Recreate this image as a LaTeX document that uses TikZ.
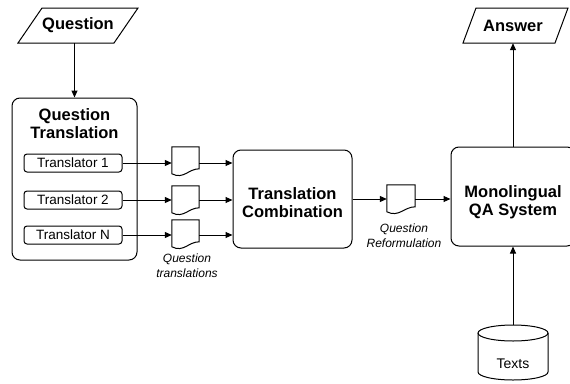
\documentclass[tikz,border=0pt]{standalone}
\usepackage{fontspec}
\setmainfont{Liberation Sans}
\usetikzlibrary{arrows.meta,calc}
\tikzset{
  ln/.style={line width=1pt},
  arr/.style={ln,-{Triangle[length=7pt,width=6pt]}},
  ttl/.style={font=\fontsize{16.5}{18}\selectfont\bfseries,align=center},
  bigbox/.style={draw,ln,rounded corners=8pt,inner sep=0pt},
  tbox/.style={draw,ln,rounded corners=3pt,minimum width=98pt,minimum height=18pt,inner sep=0pt,font=\fontsize{13.5}{16}\selectfont},
  docn/.style={minimum width=27pt,minimum height=27pt,inner sep=0pt},
  lab/.style={font=\fontsize{12}{15}\selectfont\itshape,align=center},
  slot/.style={inner sep=0pt}
}
\newcommand\docdraw[1]{%
  \draw[ln,fill=white] (#1.north west) -- (#1.north east) -- ($(#1.north east)+(0,22)$)
    .. controls ($(#1.north east)+(-11,22)$) and ($(#1.north west)+(12,33)$) .. ($(#1.north west)+(0,27)$) -- cycle;}
\begin{document}
\begin{tikzpicture}[x=1pt,y=-1pt]
\useasboundingbox[fill=white] (0,0) rectangle (570,383);

% Question parallelogram
\node[slot,ttl,minimum width=96pt,minimum height=35pt] (q) at (78,25.5) {Question};
\draw[ln] (42,8) -- (138,8) -- (114,43) -- (18,43) -- cycle;

% Question Translation box
\node[bigbox,minimum width=125pt,minimum height=162pt] (qt) at (74.5,179) {};
\node[ttl] (qtt) at (74.5,124) {Question\\Translation};
\node[tbox] (t1) at (73,163) {Translator 1};
\node[tbox] (t2) at (73,200) {Translator 2};
\node[tbox] (tn) at (73,235) {Translator N};

% documents
\node[docn] (d1) at (185.5,160.5) {};
\node[docn] (d2) at (185.5,199.5) {};
\node[docn] (dn) at (185.5,233.5) {};
\docdraw{d1}\docdraw{d2}\docdraw{dn}
\node[lab] (l1) at (187,266) {Question\\translations};

% Translation Combination
\node[bigbox,minimum width=119pt,minimum height=98pt] (tc) at (292.5,199) {};
\node[ttl] (tct) at (292.5,202.5) {Translation\\Combination};

% Question Reformulation document
\node[docn,minimum width=28pt] (qr) at (401,198.5) {};
\docdraw{qr}
\node[lab] (l2) at (404,236) {Question\\Reformulation};

% Monolingual QA System
\node[bigbox,minimum width=124pt,minimum height=99pt] (mono) at (513,196.5) {};
\node[ttl] (monot) at (513,202.5) {Monolingual\\QA System};

% Answer parallelogram
\node[slot,ttl,minimum width=93pt,minimum height=35pt] (ans) at (513,25.5) {Answer};
\draw[ln] (476,8) -- (568,8) -- (555,43) -- (463,43) -- cycle;

% Texts cylinder
\node[slot,font=\fontsize{14}{16}\selectfont] (texts) at (513,364) {Texts};
\coordinate (cyltop) at (513,325);
\draw[ln] (513,333) ellipse [x radius=35pt,y radius=8pt];
\draw[ln] (478,333) -- (478,372) arc[start angle=180,end angle=360,x radius=35pt,y radius=8pt] -- (548,333);

% connectors
\draw[arr] (qt.north |- q.south) -- (qt.north);
\draw[arr] (t1.east) -- (t1.east -| d1.west);
\draw[arr] (t2.east) -- (t2.east -| d2.west);
\draw[arr] (tn.east) -- (tn.east -| dn.west);
\draw[arr] (t1.east -| d1.east) -- (t1.east -| tc.west);
\draw[arr] (t2.east -| d2.east) -- (t2.east -| tc.west);
\draw[arr] (tn.east -| dn.east) -- (tn.east -| tc.west);
\draw[arr] (tc.east) -- (tc.east -| qr.west);
\draw[arr] (tc.east -| qr.east) -- (tc.east -| mono.west);
\draw[arr] (mono.north) -- (ans.south);
\draw[arr] (cyltop) -- (mono.south);
\end{tikzpicture}
\end{document}
